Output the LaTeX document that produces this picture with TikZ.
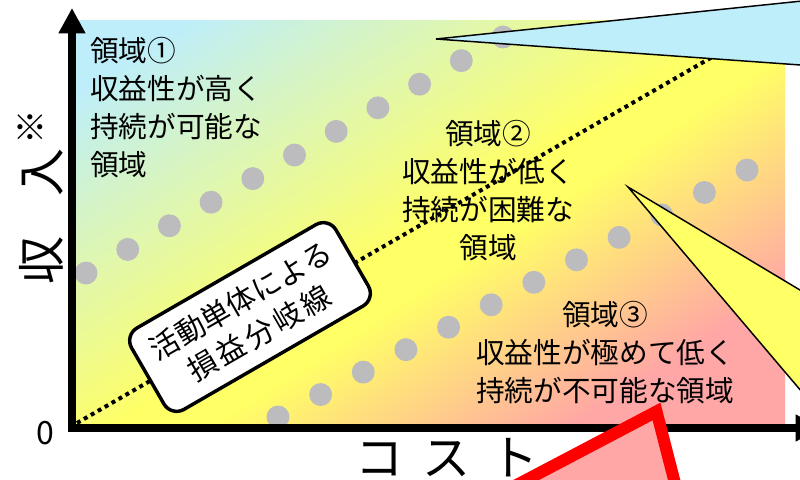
\documentclass[tikz,border=0pt]{standalone}
\usepackage{fontspec}
\setmainfont{Noto Sans CJK JP}
\usetikzlibrary{arrows.meta}
\definecolor{lblue}{RGB}{190,238,250}
\definecolor{lyellow}{RGB}{255,255,102}
\definecolor{lpink}{RGB}{255,166,166}
\definecolor{dotgray}{RGB}{188,188,190}
\pgfdeclareverticalshading{regionshade}{100bp}{color(0bp)=(lpink); color(26bp)=(lpink); color(45bp)=(lyellow); color(50bp)=(lyellow); color(79bp)=(lblue); color(100bp)=(lblue)}
\begin{document}
\begin{tikzpicture}[x=0.75pt,y=-0.75pt,
  regtext/.style={font=\fontsize{21.5}{28.5}\selectfont, inner sep=0pt, text=black},
  pdot/.style={fill=dotgray},
  breakline/.style={line width=3pt, dash pattern=on 3pt off 3pt, black},
  labelbox/.style={draw=black, line width=2.6pt, fill=white, rounded corners=11pt,
    minimum width=177pt, minimum height=70.5pt, align=center, inner sep=0pt,
    font=\fontsize{22}{28}\selectfont},
  axisline/.style={line width=6pt, black},
  callout/.style={draw=black, line width=1.1pt, line join=miter}
]
\useasboundingbox (0,0) rectangle (800,479);
\fill[white] (0,0) rectangle (800,479);
\clip (0,0) rectangle (800,479);

% gradient background
\shade[shading=regionshade, shading angle=33] (76,20) rectangle (785,424);

% dots
\foreach \i in {0,...,10}
  \fill[pdot] ({86+41.7*\i},{273-23.6*\i}) circle[radius=8.6pt];
\foreach \i in {0,...,11}
  \fill[pdot] ({278+42.64*\i},{417-22.45*\i}) circle[radius=8.6pt];

% break-even line
\coordinate (O) at (77,423);
\coordinate (BE) at (740,41);
\draw[breakline] (O) -- (BE);

% region texts
\node[regtext, anchor=west, align=left] (r1) at (90,108) {領域①\\収益性が高く\\持続が可能な\\領域};
\node[regtext, align=center] (r2) at (488,191) {領域②\\収益性が低く\\持続が困難な\\領域};
\node[regtext, align=center] (r3) at (605,352.5) {領域③\\収益性が極めて低く\\持続が不可能な領域};

% label box
\node[labelbox, rotate=30] (lb) at (250,317) {活動単体による\\損\kern2.5pt 益\kern2.5pt 分\kern2.5pt 岐\kern2.5pt 線};

% axes
\coordinate (yb) at (72,432);
\coordinate (yt) at (72,8);
\coordinate (xl) at (68,428);
\coordinate (xr) at (821,428);
\draw[axisline, -{Triangle[width=19pt,length=19pt]}] (yb) -- (yt);
\draw[axisline, -{Triangle[width=19pt,length=19pt]}] (xl) -- (xr);

% axis labels
\node[font=\fontsize{24}{24}\selectfont, inner sep=0pt] (zero) at (45,433) {0};
\node[font=\fontsize{36}{36}\selectfont, inner sep=0pt] (xlab) at (447,458) {コ\hspace{15pt}ス\hspace{15pt}ト};
\node[font=\fontsize{36}{36}\selectfont, inner sep=0pt, rotate=90, anchor=base west] (ylab) at (59,285)
  {収\hspace{30pt}入\hspace{3pt}\raisebox{12pt}{\fontsize{26}{26}\selectfont ※}};

% callouts
\coordinate (c1) at (436,39);
\filldraw[callout, fill=lblue] (c1) -- (830,-1.9) -- (830,67.1) -- cycle;
\coordinate (c2) at (628,187);
\filldraw[callout, fill=lyellow] (c2) -- (830,308) -- (830,425) -- cycle;
\coordinate (c3) at (656.5,411.5);
\filldraw[fill=lpink, draw=red, line width=9pt, line join=miter] (490,499) -- (c3) -- (679,499) -- cycle;
\end{tikzpicture}
\end{document}
